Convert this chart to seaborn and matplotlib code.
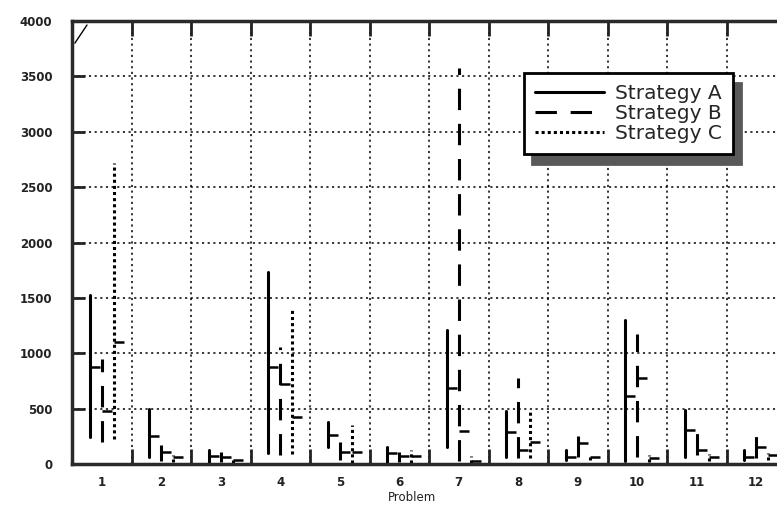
import matplotlib
matplotlib.use("Agg")
import matplotlib.pyplot as plt
from matplotlib.lines import Line2D
import numpy as np
import pandas as pd
import seaborn as sns

# ---- data: per problem, range (low/high) and mean for each strategy ----
problems = [1, 2, 3, 4, 5, 6, 7, 8, 9, 10, 11, 12]
strategies = ["Strategy A", "Strategy B", "Strategy C"]

a_low = [240, 60, 20, 100, 150, 20, 150, 60, 40, 30, 60, 40]
a_high = [1530, 500, 130, 1730, 380, 150, 1210, 480, 130, 1300, 490, 130]
a_mean = [880, 250, 70, 880, 260, 100, 690, 290, 60, 610, 310, 60]

b_low = [200, 30, 20, 80, 40, 20, 30, 50, 60, 60, 80, 50]
b_high = [950, 170, 110, 1060, 200, 110, 3580, 780, 250, 1170, 290, 260]
b_mean = [480, 110, 60, 720, 110, 70, 300, 130, 190, 780, 130, 150]

c_low = [230, 20, 10, 90, 10, 10, 10, 50, 40, 20, 30, 40]
c_high = [2720, 80, 60, 1390, 350, 130, 70, 470, 90, 80, 90, 100]
c_mean = [1100, 60, 40, 420, 110, 70, 30, 200, 60, 50, 60, 80]

y_ticks = [0, 500, 1000, 1500, 2000, 2500, 3000, 3500, 4000]

lows = {"Strategy A": a_low, "Strategy B": b_low, "Strategy C": c_low}
highs = {"Strategy A": a_high, "Strategy B": b_high, "Strategy C": c_high}
means = {"Strategy A": a_mean, "Strategy B": b_mean, "Strategy C": c_mean}
offsets = {"Strategy A": -0.2, "Strategy B": 0.0, "Strategy C": 0.2}
dash_map = {"Strategy A": "", "Strategy B": (7, 4.5), "Strategy C": (1.0, 1.0)}

# long-form table: one vertical segment (low -> high) per strategy and problem
rows = []
summary = []
for s in strategies:
    for i, p in enumerate(problems):
        x = p + offsets[s]
        seg = f"{s}-{p}"
        rows.append({"x": x, "value": lows[s][i], "seg": seg, "Strategy": s})
        rows.append({"x": x, "value": highs[s][i], "seg": seg, "Strategy": s})
        summary.append({"x": x, "mean": means[s][i], "Strategy": s})
ranges = pd.DataFrame(rows)
marks = pd.DataFrame(summary)

sns.set_style("white")
plt.rcParams["font.family"] = ["DejaVu Sans"]

fig = plt.figure(figsize=(7.77, 5.13), dpi=100)
ax = fig.add_axes([72 / 777, 49 / 513, 714 / 777, 443 / 513])

sns.lineplot(
    data=ranges, x="x", y="value", units="seg", style="Strategy",
    style_order=strategies, dashes=dash_map, estimator=None, sort=False,
    color="black", linewidth=2.2, legend=False, ax=ax,
)
# mean marker: short tick to the right of each range line
ax.hlines(marks["mean"], marks["x"], marks["x"] + 0.17, color="black", lw=1.8)

ax.set_xlim(0.5, 12.5)
ax.set_ylim(0, 4000)
ax.set_xticks(problems)
ax.set_xticklabels([str(p) for p in problems])
ax.set_xticks(np.arange(1.5, 12.5, 1.0), minor=True)
ax.set_yticks(y_ticks)
ax.set_yticklabels([str(v) for v in y_ticks])

dotted = (0, (1.4, 2.3))
ax.grid(False)
ax.grid(True, which="minor", axis="x", color="black", lw=1.1, linestyle=dotted)
ax.grid(True, which="major", axis="y", color="black", lw=1.1, linestyle=dotted)
ax.set_axisbelow(True)

ax.tick_params(axis="x", which="major", length=0, pad=9, labelsize=8.5,
               labelcolor="#222222")
ax.tick_params(axis="x", which="minor", direction="in", length=11, width=2,
               top=True, bottom=True, color="#222222")
ax.tick_params(axis="y", which="major", direction="in", length=9, width=2,
               left=True, right=False, pad=14, labelsize=8.5,
               labelcolor="#222222", color="#222222")
for lab in ax.get_xticklabels() + ax.get_yticklabels():
    lab.set_fontweight("bold")

for side in ["left", "bottom", "top"]:
    ax.spines[side].set_visible(True)
    ax.spines[side].set_color("#2a2a2a")
    ax.spines[side].set_linewidth(2.5)
ax.spines["right"].set_visible(False)

ax.set_xlabel("Problem", fontsize=8.5, color="#222222")
ax.set_ylabel("")
ax.xaxis.set_label_coords(0.476, -0.062)

# small stroke in the upper-left corner
ax.plot([0.004, 0.021], [0.95, 0.991], transform=ax.transAxes,
        color="black", lw=1)

handles = [
    Line2D([], [], color="black", lw=2.2, linestyle="-"),
    Line2D([], [], color="black", lw=2.2, linestyle=(0, (7, 4.5))),
    Line2D([], [], color="black", lw=2.2, linestyle=(0, (1.0, 1.0))),
]
leg = ax.legend(
    handles, strategies, loc="upper left",
    bbox_to_anchor=(524 / 777, 1 - 73 / 513), bbox_transform=fig.transFigure,
    borderaxespad=0, borderpad=0.55, handlelength=3.4, handletextpad=0.55,
    labelspacing=0.05, fontsize=14.5, frameon=True, fancybox=False,
    shadow={"ox": 6, "oy": -7, "facecolor": "0.35", "edgecolor": "0.35",
            "alpha": 1},
)
frame = leg.get_frame()
frame.set_edgecolor("black")
frame.set_linewidth(2)
frame.set_facecolor("white")
frame.set_alpha(1)

fig.savefig("out.png", dpi=100)
